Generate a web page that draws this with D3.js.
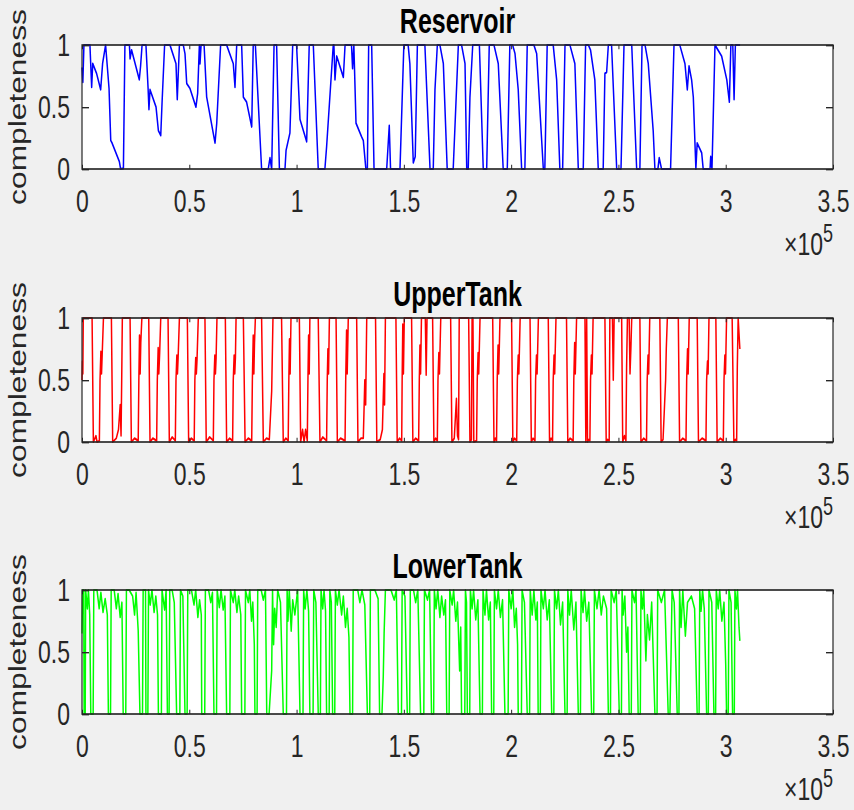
<!DOCTYPE html>
<html>
<head>
<meta charset="utf-8">
<script src="https://cdn.jsdelivr.net/npm/d3@7"></script>
<style>
  body { margin: 0; background: #f0f0f0; }
  svg { display: block; }
</style>
</head>
<body>
<div id="vis"></div>
<script>
// x values are in units of 1e5 (axis carries a x10^5 multiplier), y = completeness
const X_TICKS = [0, 0.5, 1, 1.5, 2, 2.5, 3, 3.5];
const Y_TICKS = [0, 0.5, 1];
const TITLES = ["Reservoir", "UpperTank", "LowerTank"];
const COLORS = ["#0000ff", "#ff0000", "#00ff00"];

const reservoir = [
  [0.000,0.82],[0.004,0.70],[0.009,1],[0.037,1],[0.045,0.66],[0.050,0.85],[0.068,0.77],[0.087,0.64],[0.096,0.85],[0.110,1],
  [0.126,0.65],[0.134,0.23],[0.140,0.21],[0.174,0.06],[0.180,0],[0.193,0.005],[0.200,1],[0.221,1],[0.224,0.89],[0.231,0.96],
  [0.267,0.72],[0.273,0.83],[0.280,1],[0.298,1],[0.308,0.65],[0.312,0.48],[0.317,0.64],[0.345,0.50],[0.356,0.31],[0.367,0.27],
  [0.373,0.53],[0.385,1],[0.410,1],[0.438,0.85],[0.444,0.56],[0.454,1],[0.472,1],[0.480,0.93],[0.488,0.69],[0.503,0.65],
  [0.531,0.50],[0.539,0.61],[0.547,1],[0.550,0.85],[0.555,1],[0.569,1],[0.581,0.58],[0.620,0.21],[0.628,0.37],[0.646,1],
  [0.674,1],[0.705,0.85],[0.713,0.66],[0.721,1],[0.744,1],[0.752,0.58],[0.767,0.54],[0.791,0.34],[0.798,1],[0.808,1],
  [0.837,0],[0.868,0],[0.876,0.09],[0.884,0],[0.895,1],[0.907,1],[0.920,0],[0.946,0],[0.951,0.15],[0.969,0.29],
  [0.982,1],[1.000,1],[1.016,0.40],[1.047,0.22],[1.059,1],[1.078,1],[1.101,0],[1.132,0],[1.140,0.18],[1.171,1],
  [1.174,1],[1.179,0.72],[1.187,0.91],[1.218,0.74],[1.226,1],[1.256,1],[1.261,0.81],[1.267,1],[1.277,0.37],[1.303,0.26],
  [1.311,0.23],[1.323,0],[1.330,0],[1.336,1],[1.350,1],[1.361,0],[1.420,0],[1.432,0.35],[1.438,0],[1.482,0],
  [1.500,1],[1.520,1],[1.528,0.85],[1.544,0.05],[1.553,0.10],[1.563,1],[1.598,1],[1.622,0],[1.637,0],[1.645,0.64],
  [1.656,1],[1.668,1],[1.684,0.85],[1.702,0],[1.730,0],[1.754,1],[1.769,1],[1.785,0.85],[1.793,0],[1.800,0],
  [1.808,0.58],[1.821,1],[1.852,1],[1.870,0],[1.886,0],[1.898,1],[1.920,1],[1.940,0.85],[1.963,0],[1.982,0],
  [1.994,1],[2.007,1],[2.018,0.93],[2.033,0.64],[2.049,0],[2.064,0],[2.075,1],[2.106,1],[2.119,0.93],[2.150,0],
  [2.157,0],[2.168,1],[2.196,1],[2.212,0.72],[2.227,0],[2.240,0],[2.251,1],[2.274,1],[2.297,0.85],[2.313,0],
  [2.336,0],[2.347,1],[2.360,1],[2.370,0.96],[2.390,0.72],[2.406,0],[2.429,0],[2.437,0.77],[2.445,0.78],[2.453,1],
  [2.468,1],[2.492,0],[2.512,0],[2.526,1],[2.562,1],[2.585,0],[2.600,0],[2.610,1],[2.624,1],[2.639,0.85],
  [2.662,0.31],[2.670,0],[2.684,0],[2.690,0.09],[2.701,0],[2.743,0],[2.759,1],[2.786,1],[2.810,0.85],[2.821,0.64],
  [2.829,0.83],[2.841,0.72],[2.849,0.58],[2.861,0],[2.867,0.21],[2.888,0.13],[2.895,0],[2.927,0],[2.930,0.10],[2.936,0],
  [2.950,1],[2.981,0.91],[3.005,0.72],[3.017,0.54],[3.024,1],[3.033,1],[3.039,0.56],[3.045,1],[3.067,1]
];

const upperTank = [
  [0.000,0.50],[0.002,0.65],[0.004,0.55],[0.006,1],
  [0.047,1],[0.053,0],[0.065,0.05],[0.070,0],[0.081,0.01],[0.084,0.50],[0.088,0.73],[0.091,0.55],[0.094,0.70],[0.100,1],
  [0.137,1],[0.143,0],[0.160,0.03],[0.170,0.10],[0.178,0.30],[0.182,0.05],[0.185,0.50],[0.188,1],
  [0.224,1],[0.230,0],[0.245,0.03],[0.262,0.01],[0.265,0.50],[0.268,0.86],[0.271,0.55],[0.274,0.80],[0.279,1],
  [0.311,1],[0.317,0],[0.330,0.03],[0.348,0.01],[0.351,0.50],[0.355,0.76],[0.358,0.55],[0.362,0.72],[0.367,1],
  [0.401,1],[0.407,0],[0.420,0.04],[0.435,0.01],[0.438,0.50],[0.442,0.70],[0.445,0.55],[0.448,0.68],[0.454,1],
  [0.491,1],[0.497,0],[0.510,0.03],[0.523,0.01],[0.526,0.50],[0.530,0.68],[0.533,0.55],[0.536,0.66],[0.542,1],
  [0.573,1],[0.579,0],[0.595,0.04],[0.612,0.01],[0.615,0.50],[0.619,0.70],[0.622,0.55],[0.625,0.68],[0.629,1],
  [0.668,1],[0.674,0],[0.688,0.03],[0.702,0.01],[0.705,0.50],[0.709,0.70],[0.712,0.55],[0.715,0.68],[0.718,1],
  [0.752,1],[0.760,0],[0.775,0.03],[0.791,0.01],[0.794,0.50],[0.798,0.86],[0.801,0.55],[0.804,0.80],[0.808,1],
  [0.837,1],[0.845,0],[0.860,0.03],[0.873,0.02],[0.884,0.41],[0.890,1],
  [0.930,1],[0.938,0],[0.950,0.03],[0.961,0.01],[0.964,0.50],[0.967,0.83],[0.970,0.55],[0.974,1],
  [1.013,1],[1.019,0],[1.028,0.10],[1.035,0],[1.042,0.10],[1.050,0.01],[1.053,0.50],[1.056,0.86],[1.059,0.55],[1.062,1],
  [1.101,1],[1.109,0],[1.122,0.04],[1.140,0.01],[1.143,0.50],[1.146,0.75],[1.149,0.55],[1.153,1],
  [1.184,1],[1.190,0],[1.205,0.03],[1.226,0.01],[1.229,0.50],[1.233,0.90],[1.236,0.55],[1.241,1],
  [1.280,1],[1.286,0],[1.300,0.03],[1.311,0.03],[1.318,0.50],[1.322,0.30],[1.327,1],
  [1.368,1],[1.374,0],[1.390,0.02],[1.400,0.10],[1.407,0.55],[1.410,0.30],[1.414,1],
  [1.463,1],[1.469,0],[1.480,0.03],[1.490,0.01],[1.492,0.50],[1.495,0.95],[1.498,0.55],[1.502,1],
  [1.536,1],[1.542,0],[1.555,0.03],[1.569,0.01],[1.572,0.50],[1.575,0.78],[1.578,0.55],[1.582,1],[1.600,1],[1.604,0.54],[1.608,1],
  [1.634,1],[1.640,0],[1.648,0.03],[1.656,0.01],[1.659,0.50],[1.663,0.72],[1.666,0.55],[1.672,1],
  [1.718,1],[1.724,0],[1.735,0.03],[1.745,0.35],[1.750,0.05],[1.755,0.02],[1.758,1],
  [1.802,1],[1.808,0],[1.815,0.02],[1.818,1],[1.822,1],[1.826,0],[1.839,0.01],[1.842,0.50],[1.846,0.72],[1.849,0.55],[1.855,1],
  [1.914,1],[1.920,0],[1.926,0.03],[1.932,0.01],[1.935,0.50],[1.939,0.78],[1.942,0.55],[1.948,1],
  [2.002,1],[2.008,0],[2.016,0.03],[2.026,0.01],[2.029,0.50],[2.033,0.70],[2.036,0.55],[2.042,1],
  [2.088,1],[2.094,0],[2.102,0.03],[2.111,0.01],[2.114,0.50],[2.118,0.70],[2.121,0.55],[2.127,1],
  [2.173,1],[2.179,0],[2.186,0.03],[2.193,0.01],[2.196,0.50],[2.200,0.70],[2.203,0.55],[2.209,1],
  [2.258,1],[2.264,0],[2.275,0.03],[2.289,0.01],[2.292,0.50],[2.296,0.80],[2.299,0.55],[2.305,1],
  [2.344,1],[2.348,0],[2.352,1],[2.356,0],[2.362,0.02],[2.367,0.01],[2.370,0.50],[2.374,0.70],[2.377,0.55],[2.382,1],
  [2.437,1],[2.443,0],[2.450,0.02],[2.457,0.01],[2.460,1],[2.472,1],[2.476,0.50],[2.480,1],
  [2.515,1],[2.520,0],[2.528,0.05],[2.535,0.01],[2.538,0.60],[2.542,1],[2.550,1],[2.554,0.55],[2.558,0.75],[2.562,1],
  [2.600,1],[2.605,0],[2.618,0.03],[2.631,0.01],[2.634,0.50],[2.638,0.70],[2.641,0.55],[2.646,1],
  [2.693,1],[2.699,0],[2.708,0.02],[2.715,0.30],[2.720,0.50],[2.723,0.75],[2.728,1],
  [2.779,1],[2.785,0],[2.800,0.03],[2.815,0.01],[2.818,0.50],[2.822,0.75],[2.825,0.55],[2.830,1],
  [2.867,1],[2.873,0],[2.890,0.03],[2.908,0.01],[2.911,0.50],[2.915,0.65],[2.918,0.55],[2.922,1],
  [2.954,1],[2.960,0],[2.975,0.03],[2.989,0.01],[2.992,0.50],[2.996,0.70],[2.999,0.55],[3.004,1],
  [3.030,1],[3.038,0],[3.045,0.02],[3.051,0.01],[3.054,0.60],[3.058,1],[3.066,0.75]
];

const lowerTank = [
  [0.000,0.65],[0.003,1],[0.008,1],[0.010,0],[0.015,0],[0.017,1],
  [0.025,0.85],[0.030,1],[0.036,0.80],[0.041,0],[0.052,0],[0.055,1],
  [0.070,1],[0.080,0.85],[0.088,0.98],[0.098,0.82],[0.108,0.93],[0.118,0.80],[0.123,0],[0.133,0],[0.136,1],
  [0.150,1],[0.160,0.85],[0.168,0.97],[0.178,0.78],[0.186,0.90],[0.192,0],[0.204,0],[0.207,1],
  [0.220,1],[0.236,0.95],[0.245,0.80],[0.252,0.98],[0.262,0.67],[0.270,0],[0.282,0],[0.285,1],
  [0.296,1],[0.298,0],[0.307,0],[0.310,1],
  [0.318,0.88],[0.326,1],[0.336,0.82],[0.344,0.95],[0.352,0.80],[0.356,0],[0.370,0],[0.373,1],
  [0.385,0.84],[0.392,1],[0.398,0],[0.406,0],[0.409,1],
  [0.420,1],[0.430,0.90],[0.441,0],[0.456,0],[0.459,1],
  [0.470,0.95],[0.480,0],[0.490,0],[0.493,1],
  [0.510,1],[0.522,0.88],[0.530,1],[0.540,0.78],[0.548,0.92],[0.556,0.80],[0.558,0],[0.572,0],[0.575,1],
  [0.590,1],[0.600,0.90],[0.608,0.98],[0.615,0],[0.627,0],[0.630,1],
  [0.640,0.86],[0.648,1],[0.658,0.84],[0.666,0.95],[0.674,0],[0.689,0],[0.692,1],
  [0.705,0.90],[0.712,1],[0.722,0.82],[0.730,0.95],[0.740,0.80],[0.744,0],[0.759,0],[0.762,1],
  [0.775,0.90],[0.782,1],[0.790,0.75],[0.796,0.90],[0.803,0.56],[0.806,0],[0.816,0],[0.819,1],
  [0.835,1],[0.845,0.92],[0.855,1],[0.861,0],[0.872,0],[0.884,0.35],[0.888,1],
  [0.893,0.56],[0.898,0.85],[0.905,0.70],[0.912,1],[0.925,0.90],[0.938,0],[0.953,0],[0.956,1],
  [0.960,0.75],[0.966,1],[0.975,0.67],[0.982,0.92],[0.992,0.80],[1.005,1],[1.016,0],[1.030,0],[1.033,1],
  [1.040,0.85],[1.048,1],[1.056,0.83],[1.062,0],[1.077,0],[1.080,1],
  [1.090,0.90],[1.101,0],[1.111,0],[1.114,1],
  [1.122,0.85],[1.128,1],[1.135,0.83],[1.140,0],[1.152,0],[1.155,1],
  [1.162,0.90],[1.168,0],[1.178,0],[1.181,1],
  [1.190,0.88],[1.198,1],[1.210,0.80],[1.218,0.95],[1.228,0.70],[1.236,0.85],[1.244,0.62],[1.249,0],[1.261,0],[1.264,1],
  [1.285,1],[1.295,0.90],[1.305,1],[1.318,0.88],[1.330,0],[1.341,0],[1.344,1],
  [1.365,1],[1.380,0.93],[1.387,0],[1.398,0],[1.404,0.30],[1.408,0.65],[1.414,1],
  [1.440,1],[1.455,0.92],[1.465,1],[1.474,0],[1.489,0],[1.492,1],
  [1.505,0.95],[1.516,0],[1.527,0],[1.530,1],
  [1.545,1],[1.555,0.90],[1.565,1],[1.578,0],[1.593,0],[1.596,1],
  [1.610,0.92],[1.620,1],[1.629,0],[1.639,0],[1.642,1],
  [1.650,0.85],[1.658,1],[1.668,0.78],[1.676,0.95],[1.686,0.80],[1.694,0.92],[1.700,0],[1.711,0],[1.714,1],
  [1.725,0.88],[1.732,1],[1.742,0.75],[1.750,0.90],[1.760,0.35],[1.765,0.70],[1.769,0],[1.784,0],[1.787,1],
  [1.792,0.90],[1.796,0],[1.807,0],[1.810,1],
  [1.818,0.85],[1.825,1],[1.835,0.76],[1.845,0.92],[1.855,0],[1.866,0],[1.869,1],
  [1.878,0.80],[1.885,1],[1.895,0.76],[1.903,0.90],[1.909,0],[1.919,0],[1.922,1],
  [1.932,0.85],[1.940,1],[1.950,0.78],[1.960,0.92],[1.971,0],[1.986,0],[1.989,1],
  [2.000,0.85],[2.008,1],[2.016,0.70],[2.024,0.85],[2.030,0.56],[2.033,0],[2.048,0],[2.051,1],
  [2.062,0.90],[2.075,0],[2.086,0],[2.089,1],
  [2.098,0.80],[2.106,1],[2.115,0.76],[2.122,0.90],[2.126,0],[2.136,0],[2.139,1],
  [2.150,0.85],[2.158,1],[2.168,0.76],[2.178,0.92],[2.189,0],[2.199,0],[2.202,1],
  [2.212,0.85],[2.220,1],[2.230,0.72],[2.240,0.90],[2.251,0],[2.261,0],[2.264,1],
  [2.272,0.80],[2.280,1],[2.292,0.68],[2.302,0.90],[2.313,0],[2.323,0],[2.326,1],
  [2.335,0.82],[2.342,1],[2.352,0.75],[2.362,0.90],[2.375,0],[2.385,0],[2.388,1],
  [2.400,0.85],[2.410,1],[2.420,0.80],[2.430,0.95],[2.445,0.85],[2.453,0],[2.463,0],[2.466,1],
  [2.480,0.90],[2.490,1],[2.504,0],[2.514,0],[2.517,1],
  [2.522,0.80],[2.530,0.95],[2.538,0.50],[2.544,0.70],[2.548,0.24],[2.550,0],[2.560,0],[2.563,1],
  [2.575,0.90],[2.582,1],[2.592,0],[2.602,0],[2.605,1],
  [2.612,0.85],[2.618,1],[2.628,0.43],[2.635,0.80],[2.645,0.60],[2.655,0.90],[2.670,0],[2.680,0],[2.683,1],
  [2.700,0.90],[2.715,1],[2.732,0],[2.740,0],[2.745,0.45],[2.750,1],
  [2.760,0.90],[2.774,0],[2.782,0],[2.785,1],
  [2.792,0.70],[2.800,1],[2.812,0.63],[2.822,0.90],[2.840,0.95],[2.855,0.85],[2.867,0],[2.876,0],[2.879,1],
  [2.885,0.83],[2.892,1],[2.900,0.85],[2.911,0],[2.919,0],[2.922,1],
  [2.935,0.90],[2.945,0],[2.953,0],[2.956,1],
  [2.965,0.85],[2.972,1],[2.982,0.75],[2.992,0.90],[3.000,0.40],[3.004,0],[3.012,0],[3.015,1],
  [3.025,0.90],[3.032,0],[3.040,0],[3.043,1],
  [3.050,0.85],[3.055,1],[3.062,0.70],[3.066,0.59]
];

const SERIES = [reservoir, upperTank, lowerTank];

const FRAME_WIDTH = 854;
const FRAME_HEIGHT = 810;
const STRETCH = 1.38;   // the source figure was stretched vertically
const VIEW_HEIGHT = FRAME_HEIGHT / STRETCH;
const MARGINS = {left: 82, right: 21};
const PANEL_TOPS = [45, 318, 590].map(v => v / STRETCH);
const PANEL_HEIGHT = 124 / STRETCH;
const INK = "#262626";
const FONT = "'Liberation Sans', Arial, Helvetica, sans-serif";

const FRAME = d3.select("#vis")
  .append("svg")
    .attr("width", FRAME_WIDTH)
    .attr("height", FRAME_HEIGHT)
    .attr("viewBox", "0 0 " + FRAME_WIDTH + " " + VIEW_HEIGHT)
    .attr("preserveAspectRatio", "none");

FRAME.append("rect")
  .attr("width", FRAME_WIDTH).attr("height", VIEW_HEIGHT)
  .attr("fill", "#f0f0f0");

const X_SCALE = d3.scaleLinear()
  .domain([0, 3.5])
  .range([MARGINS.left, FRAME_WIDTH - MARGINS.right]);

function styleAxis(g) {
  g.select(".domain").remove();
  g.selectAll("line").attr("stroke", INK);
  g.selectAll("text").attr("fill", INK);
  g.attr("font-family", FONT).attr("font-size", 23);
}

SERIES.forEach((data, i) => {
  const top = PANEL_TOPS[i];
  const bottom = top + PANEL_HEIGHT;
  const Y_SCALE = d3.scaleLinear().domain([0, 1]).range([bottom, top]);
  const panel = FRAME.append("g");

  panel.append("rect")
    .attr("x", X_SCALE(0)).attr("y", top)
    .attr("width", X_SCALE(3.5) - X_SCALE(0)).attr("height", PANEL_HEIGHT)
    .attr("fill", "#ffffff");

  panel.append("path")
    .datum(data)
    .attr("fill", "none")
    .attr("stroke", COLORS[i])
    .attr("stroke-width", 1.5)
    .attr("stroke-linejoin", "round")
    .attr("d", d3.line().x(d => X_SCALE(d[0])).y(d => Y_SCALE(d[1])));

  // axes, ticks point inward like matlab
  panel.append("g")
    .attr("transform", "translate(0," + bottom + ")")
    .call(d3.axisBottom(X_SCALE).tickValues(X_TICKS).tickSize(-3).tickPadding(14.5).tickFormat(d => d))
    .call(styleAxis);
  panel.append("g")
    .attr("transform", "translate(0," + top + ")")
    .call(d3.axisTop(X_SCALE).tickValues(X_TICKS).tickSize(-3).tickFormat(""))
    .call(styleAxis);
  panel.append("g")
    .attr("transform", "translate(" + X_SCALE(0) + ",0)")
    .call(d3.axisLeft(Y_SCALE).tickValues(Y_TICKS).tickSize(-7).tickPadding(12).tickFormat(d => d))
    .call(styleAxis);
  panel.append("g")
    .attr("transform", "translate(" + X_SCALE(3.5) + ",0)")
    .call(d3.axisRight(Y_SCALE).tickValues(Y_TICKS).tickSize(-7).tickFormat(""))
    .call(styleAxis);

  panel.append("rect")
    .attr("x", X_SCALE(0)).attr("y", top)
    .attr("width", X_SCALE(3.5) - X_SCALE(0)).attr("height", PANEL_HEIGHT)
    .attr("fill", "none")
    .attr("stroke", INK)
    .attr("stroke-width", 1.2);

  panel.append("text")
    .attr("x", (X_SCALE(0) + X_SCALE(3.5)) / 2)
    .attr("y", top - 8.5)
    .attr("text-anchor", "middle")
    .attr("font-family", FONT).attr("font-size", 25).attr("font-weight", "bold")
    .attr("fill", "#000")
    .text(TITLES[i]);

  panel.append("text")
    .attr("transform", "translate(26," + (top + PANEL_HEIGHT / 2) + ") rotate(-90)")
    .attr("text-anchor", "middle")
    .attr("font-family", FONT).attr("font-size", 23)
    .attr("fill", INK)
    .text("completeness");

  const mult = panel.append("text")
    .attr("x", X_SCALE(3.5))
    .attr("y", bottom + 62.5)
    .attr("text-anchor", "end")
    .attr("font-family", FONT).attr("font-size", 23)
    .attr("fill", INK);
  mult.append("tspan").text("\u00d710");
  mult.append("tspan").attr("dy", -9.4).attr("font-size", 18).text("5");
});
</script>
</body>
</html>
